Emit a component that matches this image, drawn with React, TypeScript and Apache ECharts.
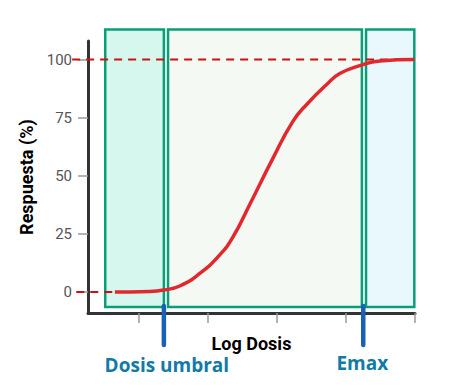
import React, { useEffect, useRef } from "react";
import * as echarts from "echarts";

// Dose-response curve (x: log dose, y: response %)
const logDose = [-0.35, -0.13, 0.16, 0.36, 0.59, 0.88, 1.17, 1.36, 1.61, 1.94, 2.23, 2.43, 2.72, 2.91, 3.2, 3.49, 3.99];
const response = [0, 0, 0.2, 0.9, 2.6, 8, 16, 23.6, 38, 57.5, 73.4, 80.7, 89.3, 94, 97.4, 99.4, 100];

const yTicks = [0, 25, 50, 75, 100];
const xTicks = [0, 1, 2, 3, 4];

// Shaded regions along the dose axis
const regionStart = [-0.49, 0.42, 3.29];
const regionEnd = [0.36, 3.23, 3.99];
const regionFill = ["#d5f7ee", "#f4faf3", "#e9f8fd"];
const regionTop = 113;
const regionBottom = -6.4;

// Markers
const markerDose = [0.36, 3.25];
const markerLabel = ["Dosis umbral", "Emax"];

// Reference dashed lines [value, xFrom, xTo]
const refValue = [100, 0];
const refFrom = [-0.97, -0.91];
const refTo = [3.99, -0.35];

export default function App() {
  const ref = useRef<HTMLDivElement>(null);
  useEffect(() => {
    if (!ref.current) return;
    const chart = echarts.init(ref.current, null, { renderer: "svg" });
    chart.setOption({
      animation: false,
      grid: { left: 88, right: 46, top: 41, bottom: 76 },
      xAxis: {
        type: "value",
        min: -0.74,
        max: 4,
        name: "Log Dosis",
        nameLocation: "middle",
        nameGap: 21,
        nameTextStyle: { fontFamily: "Roboto", fontWeight: "bold", fontSize: 18, color: "#000" },
        axisLine: { show: true, onZero: false, lineStyle: { color: "#333", width: 3 } },
        axisTick: { show: true, customValues: xTicks, length: 10, lineStyle: { color: "#9a9a9a", width: 1.5 } },
        axisLabel: { show: false },
        splitLine: { show: false },
      },
      yAxis: {
        type: "value",
        min: -9,
        max: 108,
        name: "Respuesta (%)",
        nameLocation: "middle",
        nameGap: 49,
        nameTextStyle: { fontFamily: "Roboto", fontWeight: "bold", fontSize: 18, color: "#000" },
        axisLine: { show: true, onZero: false, lineStyle: { color: "#333", width: 3 } },
        axisTick: { show: true, customValues: yTicks, length: 10, lineStyle: { color: "#9a9a9a", width: 1.5 } },
        axisLabel: { customValues: yTicks, margin: 16, fontFamily: "Roboto", fontSize: 15, color: "#555" },
        splitLine: { show: false },
      },
      series: [
        {
          type: "line",
          data: logDose.map((x, i) => [x, response[i]]),
          smooth: 0.5,
          showSymbol: false,
          symbol: "none",
          lineStyle: { color: "#e0282e", width: 3.5 },
          z: 5,
        },
      ],
    });

    const px = (x: number, y: number) => chart.convertToPixel({ xAxisIndex: 0, yAxisIndex: 0 }, [x, y]) as number[];
    const graphics: any[] = [];
    regionStart.forEach((s, i) => {
      const a = px(s, regionTop);
      const b = px(regionEnd[i], regionBottom);
      graphics.push({
        type: "rect",
        z: -10,
        shape: { x: a[0], y: a[1], width: b[0] - a[0], height: b[1] - a[1] },
        style: { fill: regionFill[i], stroke: "#0a9e78", lineWidth: 2.5 },
      });
    });
    refValue.forEach((v, i) => {
      const a = px(refFrom[i], v);
      const b = px(refTo[i], v);
      graphics.push({
        type: "line",
        z: 1,
        shape: { x1: a[0], y1: a[1], x2: b[0], y2: b[1] },
        style: { stroke: "#cc1111", lineWidth: 2, lineDash: [8, 6] },
      });
    });
    markerDose.forEach((d, i) => {
      const a = px(d, -6);
      const b = px(d, -22.8);
      graphics.push({
        type: "line",
        z: 10,
        shape: { x1: a[0], y1: a[1], x2: b[0], y2: b[1] },
        style: { stroke: "#1a5fb8", lineWidth: 4.5, lineCap: "round" },
      });
      const t = px(d, i === 0 ? -31.5 : -30.5);
      graphics.push({
        type: "text",
        z: 10,
        x: t[0] + (i === 0 ? 3 : -1),
        y: t[1],
        style: {
          text: markerLabel[i],
          fill: "#127aa9",
          font: "bold 19px 'Open Sans'",
          align: "center",
          verticalAlign: "middle",
        },
      });
    });
    chart.setOption({ graphic: graphics });
    return () => chart.dispose();
  }, []);
  return (
    <div
      ref={ref}
      style={{ position: "fixed", left: 0, top: 0, width: 461, height: 389, background: "#fff" }}
    />
  );
}
